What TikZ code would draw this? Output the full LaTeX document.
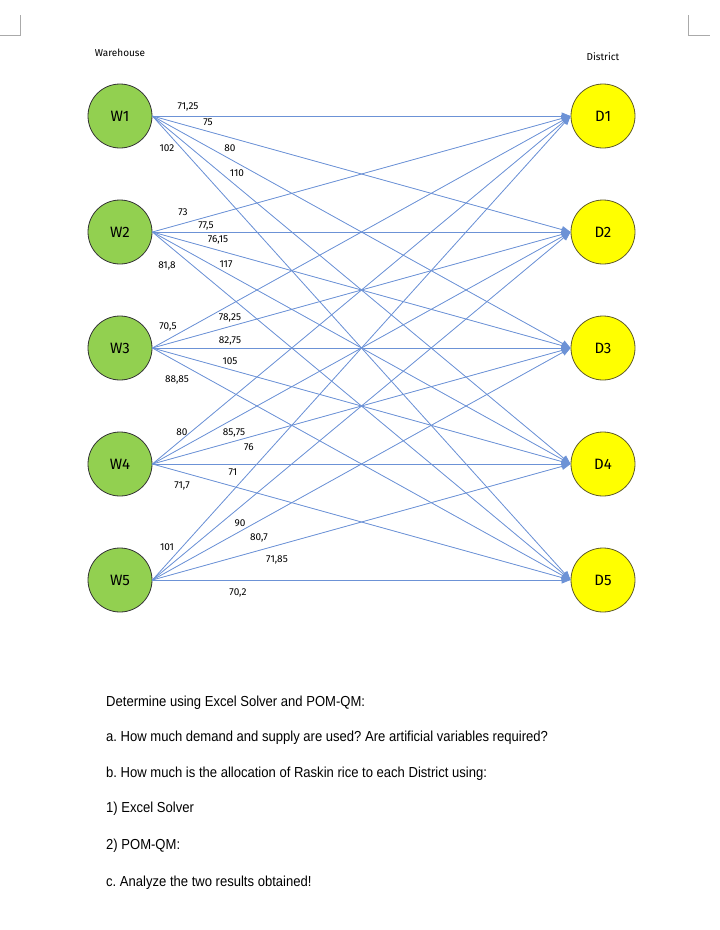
\documentclass[tikz,border=0pt]{standalone}
\usepackage{fontspec}
\setmainfont{Liberation Sans}[FakeStretch=0.9]
\newfontfamily\diagfont{Fira Sans}
\usetikzlibrary{arrows.meta}
\definecolor{whgreen}{RGB}{146,208,80}
\definecolor{dsyellow}{RGB}{255,255,0}
\definecolor{dsedge}{RGB}{95,90,40}
\definecolor{lnblue}{RGB}{108,146,214}
\definecolor{cornergray}{RGB}{170,170,170}
\frenchspacing

\begin{document}
\begin{tikzpicture}[x=1pt,y=-1pt,
  every node/.style={inner sep=0pt},
  whnode/.style={circle,draw=black!80,line width=0.8pt,fill=whgreen,minimum size=64pt,font=\diagfont\fontsize{15}{17}\selectfont},
  dsnode/.style={circle,draw=dsedge,line width=0.8pt,fill=dsyellow,minimum size=64pt,font=\diagfont\fontsize{15}{17}\selectfont},
  cost/.style={font=\diagfont\fontsize{10}{12}\selectfont},
  arr/.style={-{Triangle[length=9pt,width=7pt]},draw=lnblue,fill=lnblue,line width=0.8pt},
  txt/.style={anchor=base west,font=\fontsize{14.5}{17}\selectfont}
]
\useasboundingbox (0,0) rectangle (720,930);

% page corner marks
\draw[cornergray,line width=1pt] (0,35) -- (20,35) -- (20,15);
\draw[cornergray,line width=1pt] (688,15) -- (688,35) -- (710,35);

% headings
\node[cost] (wh) at (120,53) {Warehouse};
\node[cost] (ds) at (603,57) {District};

% warehouses and districts
\foreach \i/\y in {1/116,2/232,3/348,4/464,5/580} {
  \node[whnode] (W\i) at (120,\y) {W\i};
  \node[dsnode] (D\i) at (603,\y) {D\i};
}

% routes
\foreach \i in {1,...,5} {
  \foreach \j in {1,...,5} {
    \draw[arr] (W\i.east) -- (D\j.west);
  }
}

% costs from W1
\node[cost] (c11) at (188,107) {71,25};
\node[cost] (c12) at (208,122) {75};
\node[cost] (c13) at (230,148) {80};
\node[cost] (c14) at (237,173) {110};
\node[cost] (c15) at (167,148) {102};

% costs from W2
\node[cost] (c21) at (183,212) {73};
\node[cost] (c22) at (206,226) {77,5};
\node[cost] (c23) at (218,240) {76,15};
\node[cost] (c24) at (226,264) {117};
\node[cost] (c25) at (167,266) {81,8};

% costs from W3
\node[cost] (c31) at (168,327) {70,5};
\node[cost] (c32) at (230,318) {78,25};
\node[cost] (c33) at (230,341) {82,75};
\node[cost] (c34) at (230,361) {105};
\node[cost] (c35) at (177,380) {88,85};

% costs from W4
\node[cost] (c41) at (182,432) {80};
\node[cost] (c42) at (234,433) {85,75};
\node[cost] (c43) at (249,447) {76};
\node[cost] (c44) at (233,472) {71};
\node[cost] (c45) at (182,486) {71,7};

% costs from W5
\node[cost] (c51) at (167,547) {101};
\node[cost] (c52) at (240,523) {90};
\node[cost] (c53) at (259,538) {80,7};
\node[cost] (c54) at (277,560) {71,85};
\node[cost] (c55) at (238,593) {70,2};

% questions
\node[txt] (q0) at (106,706) {Determine using Excel Solver and POM-QM:};
\node[txt] (qa) at (106,741) {a. How much demand and supply are used? Are artificial variables required?};
\node[txt] (qb) at (106,777) {b. How much is the allocation of Raskin rice to each District using:};
\node[txt] (q1) at (106,812) {1) Excel Solver};
\node[txt] (q2) at (106,849) {2) POM-QM:};
\node[txt] (qc) at (106,886) {c. Analyze the two results obtained!};
\end{tikzpicture}
\end{document}
